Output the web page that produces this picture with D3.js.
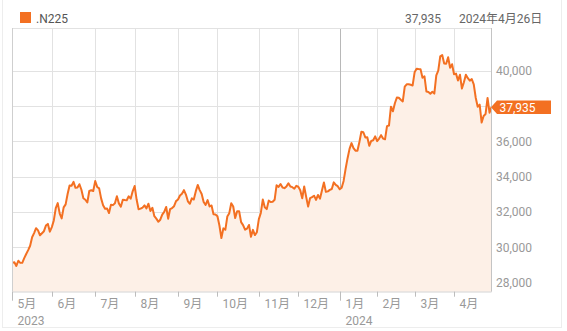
<!DOCTYPE html>
<html>
<head>
<meta charset="utf-8">
<title>.N225</title>
<script src="https://cdn.jsdelivr.net/npm/d3@7"></script>
<style>
  body { margin: 0; background: #fff; font-family: Roboto, "Noto Sans CJK JP", sans-serif; }
</style>
</head>
<body>
<script>

// month labels on the x axis, and the year shown under the first month of each year
var months = ["5月", "6月", "7月", "8月", "9月", "10月", "11月", "12月", "1月", "2月", "3月", "4月"];
var years = {0: "2023", 8: "2024"};

// daily closes of the index, one list per month (May 2023 .. April 2024)
var closes = [
  [29123, 29157, 28949, 29242, 29122, 29126, 29388, 29626, 29842, 30093,
   30573, 30808, 31086, 30957, 30682, 30801, 30916, 31233, 31328, 30887],
  [31148, 31524, 32217, 32506, 31913, 31641, 32265, 32434, 33018, 33502, 33485,
   33706, 33370, 33388, 33575, 33264, 32781, 32698, 32538, 33193, 33234, 33189],
  [33753, 33422, 33338, 32773, 32388, 32189, 32203, 31943, 32419, 32391,
   32493, 32896, 32490, 32304, 32700, 32682, 32668, 32891, 32759, 33172],
  [33476, 32707, 32159, 32192, 32254, 32377, 32204, 32473, 32059, 32238, 31766,
   31626, 31450, 31566, 31856, 32010, 32287, 31624, 32169, 32227, 32333, 32619],
  [32710, 32939, 33036, 33241, 32991, 32606, 32467, 32776, 32707, 33168,
   33533, 33242, 33023, 32571, 32402, 32678, 32315, 32371, 31872, 31857],
  [31759, 31237, 30526, 31075, 30994, 31746, 31936, 32494, 32315, 31659, 32040,
   32042, 31430, 31259, 30999, 31062, 31269, 30601, 30991, 30696, 30858],
  [31601, 31949, 32708, 32272, 32166, 32646, 32568, 32585, 32695, 33519,
   33424, 33585, 33388, 33354, 33451, 33625, 33447, 33408, 33321, 33486],
  [33431, 33231, 32775, 33445, 32858, 32307, 32791, 32843, 32926, 32686, 32970,
   32758, 33219, 33675, 33140, 33169, 33254, 33305, 33681, 33539, 33464],
  [33288, 33377, 33763, 34441, 35049, 35577, 35901, 35619, 35477, 35466,
   35963, 36546, 36517, 36226, 36236, 35751, 36026, 36065, 36286],
  [36011, 36158, 36354, 36160, 36119, 36863, 36897, 37963, 37703, 38157,
   38487, 38470, 38363, 38262, 39098, 39233, 39239, 39208, 39166],
  [39910, 40109, 40097, 40090, 39598, 39688, 38820, 38797, 38695, 38807,
   38707, 39740, 40003, 40815, 40888, 40414, 40398, 40762, 40168, 40369],
  [39803, 39838, 39451, 39773, 38992, 39347, 39773, 39581, 39442, 39523,
   39232, 38471, 37961, 38079, 37068, 37438, 37552, 38460, 37628, 37935]
];

// 38,000 has a grid line but its label is covered by the last-value tag
var gridValues = [28000, 30000, 32000, 34000, 36000, 38000, 40000];
var yTicks = [28000, 30000, 32000, 34000, 36000, 40000];

var seriesName = ".N225";
var lastDate = "2024年4月26日";

// flatten into one list of trading days, remembering where each month starts
var points = [];
var monthStart = [];
closes.forEach(function(m) {
  monthStart.push(points.length);
  m.forEach(function(v) { points.push(v); });
});
var last = points[points.length - 1];

var w = 567, h = 331;
var plotLeft = 12.4, plotRight = 491.5, plotTop = 28, plotBottom = 291.7;
var orange = "#f37022";
var fmt = d3.format(",");

var xScale = d3.scaleLinear()
  .domain([0, points.length - 1])
  .range([plotLeft, plotRight]);

var yScale = d3.scaleLinear()
  .domain([27490, 42420])
  .range([plotBottom, plotTop]);

var svg = d3.select("body").append("svg")
  .attr("width", w)
  .attr("height", h)
  .style("display", "block");

// card frame
svg.append("rect")
  .attr("x", 2.5).attr("y", -2)
  .attr("width", 559).attr("height", 329.5)
  .attr("fill", "none")
  .attr("stroke", "#ededed");

// header
svg.append("rect")
  .attr("x", 20).attr("y", 12)
  .attr("width", 11).attr("height", 11)
  .attr("fill", orange);

svg.append("text")
  .attr("x", 36).attr("y", 22.5)
  .attr("font-size", "12px").attr("fill", "#555")
  .text(seriesName);

svg.append("text")
  .attr("x", 441).attr("y", 22.5)
  .attr("text-anchor", "end")
  .attr("font-size", "12px").attr("fill", "#666")
  .text(fmt(last));

svg.append("text")
  .attr("x", 459).attr("y", 22.5)
  .attr("font-size", "12px").attr("fill", "#666")
  .text(lastDate);

// horizontal grid
svg.selectAll(".hgrid")
  .data(gridValues)
  .enter()
  .append("line")
  .attr("x1", plotLeft).attr("x2", plotRight)
  .attr("y1", function(d) { return Math.round(yScale(d)) + 0.5; })
  .attr("y2", function(d) { return Math.round(yScale(d)) + 0.5; })
  .attr("stroke", "#e2e2e2");

// vertical grid at the first trading day of each month
svg.selectAll(".vgrid")
  .data(monthStart.slice(1))
  .enter()
  .append("line")
  .attr("x1", function(d) { return Math.round(xScale(d)) + 0.5; })
  .attr("x2", function(d) { return Math.round(xScale(d)) + 0.5; })
  .attr("y1", plotTop).attr("y2", plotBottom)
  .attr("stroke", function(d, i) { return years[i + 1] ? "#b8b8b8" : "#e2e2e2"; });

// area and line
var area = d3.area()
  .x(function(d, i) { return xScale(i); })
  .y0(plotBottom)
  .y1(function(d) { return yScale(d); });

var line = d3.line()
  .x(function(d, i) { return xScale(i); })
  .y(function(d) { return yScale(d); });

svg.append("path")
  .datum(points)
  .attr("d", area)
  .attr("fill", "#fdf0e7");

svg.append("path")
  .datum(points)
  .attr("d", line)
  .attr("fill", "none")
  .attr("stroke", orange)
  .attr("stroke-width", 2)
  .attr("stroke-linejoin", "round");

// plot frame
svg.append("line")
  .attr("x1", plotLeft).attr("x2", plotRight)
  .attr("y1", plotTop + 0.5).attr("y2", plotTop + 0.5)
  .attr("stroke", "#e2e2e2");
svg.append("line")
  .attr("x1", 12.5).attr("x2", 12.5)
  .attr("y1", plotTop).attr("y2", plotBottom)
  .attr("stroke", "#cfcfcf");
svg.append("line")
  .attr("x1", 491.5).attr("x2", 491.5)
  .attr("y1", plotTop).attr("y2", plotBottom)
  .attr("stroke", "#c4c4c4");
svg.append("line")
  .attr("x1", plotLeft).attr("x2", plotRight)
  .attr("y1", plotBottom + 0.3).attr("y2", plotBottom + 0.3)
  .attr("stroke", "#d4d4d4");

// x axis ticks and labels
var xa = svg.selectAll(".xtick")
  .data(monthStart)
  .enter()
  .append("g")
  .attr("transform", function(d) { return "translate(" + (Math.round(xScale(d)) + 0.5) + ",0)"; });

xa.append("line")
  .attr("y1", plotBottom)
  .attr("y2", function(d, i) { return years[i] ? plotBottom + 9 : plotBottom + 5; })
  .attr("stroke", "#bdbdbd");

xa.append("text")
  .attr("x", 5).attr("y", 307.5)
  .attr("font-size", "12px").attr("fill", "#999")
  .text(function(d, i) { return months[i]; });

xa.filter(function(d, i) { return years[i]; })
  .append("text")
  .attr("x", 5).attr("y", 325)
  .attr("font-size", "12px").attr("fill", "#999")
  .text(function(d) { return years[monthStart.indexOf(d)]; });

// y axis labels
svg.selectAll(".ylab")
  .data(yTicks)
  .enter()
  .append("text")
  .attr("x", 496)
  .attr("y", function(d) { return yScale(d) + 4.3; })
  .attr("font-size", "12px").attr("fill", "#999")
  .text(function(d) { return fmt(d); });

// tag with the last value
var ty = yScale(last);
svg.append("path")
  .attr("d", "M491," + ty + "L497," + (ty - 6.7) + "H551V" + (ty + 6.7) + "H497Z")
  .attr("fill", orange);

svg.append("text")
  .attr("x", 499.5).attr("y", ty + 4.3)
  .attr("font-size", "12px").attr("fill", "#fff")
  .text(fmt(last));

</script>
</body>
</html>
